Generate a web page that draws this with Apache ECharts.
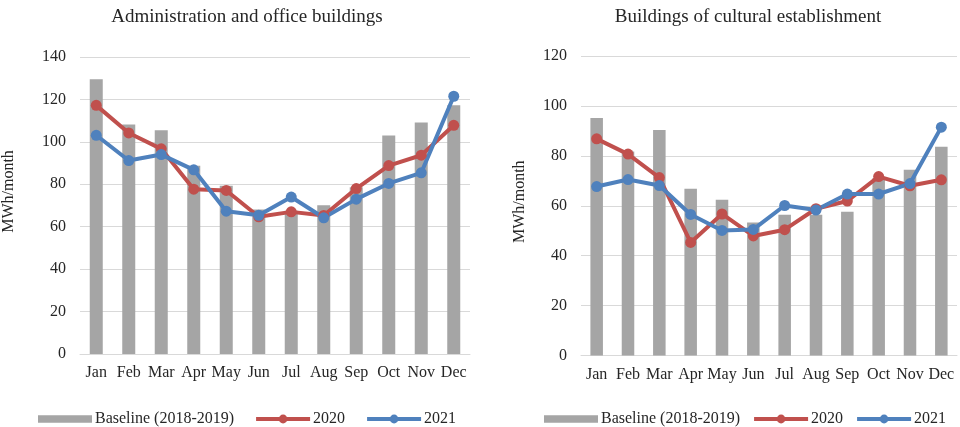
<!DOCTYPE html>
<html>
<head>
<meta charset="utf-8">
<script src="https://cdn.jsdelivr.net/npm/echarts@6/dist/echarts.min.js"></script>
<style>
  html, body { margin: 0; padding: 0; background: #fff; }
  #chart { width: 960px; height: 427px; }
</style>
</head>
<body>
<div id="chart"></div>
<script>
// Monthly energy use, MWh/month
const months = ['Jan', 'Feb', 'Mar', 'Apr', 'May', 'Jun', 'Jul', 'Aug', 'Sep', 'Oct', 'Nov', 'Dec'];

// Administration and office buildings
const officeBaseline = [129.5, 108.2, 105.5, 88.7, 79.3, 68.1, 67.5, 70.1, 78.6, 103, 109.1, 117.2];
const office2020 = [117.2, 104.2, 96.7, 77.7, 77.1, 64.7, 67.0, 65.3, 78.0, 88.8, 93.7, 107.8];
const office2021 = [103.1, 91.2, 94.0, 86.8, 67.3, 65.4, 74.0, 64.2, 73.0, 80.4, 85.4, 121.5];

// Buildings of cultural establishment
const cultureBaseline = [95.2, 81.7, 90.4, 66.8, 62.4, 53.3, 56.4, 56.4, 57.6, 71.0, 74.4, 83.6];
const culture2020 = [86.8, 80.7, 71.3, 45.3, 56.7, 47.9, 50.4, 58.8, 61.9, 71.7, 68.0, 70.4];
const culture2021 = [67.7, 70.5, 68.1, 56.5, 50.1, 50.5, 60.1, 58.3, 64.7, 64.7, 68.9, 91.5];

const seriesNames = ['Baseline (2018-2019)', '2020', '2021'];
const colors = { base: '#A5A5A5', y2020: '#C0504D', y2021: '#4F81BD' };
const font = '"Liberation Serif", "Times New Roman", serif';
const textColor = '#262626';

function xAxisFor(gridIndex) {
  return {
    type: 'category', gridIndex, data: months,
    axisLine: { lineStyle: { color: '#D9D9D9', width: 1 } },
    axisTick: { show: false },
    axisLabel: { color: textColor, fontFamily: font, fontSize: 16, margin: 11, interval: 0 }
  };
}

function yAxisFor(gridIndex, max, nameGap, namePad) {
  return {
    type: 'value', gridIndex, min: 0, max, interval: 20,
    name: 'MWh/month', nameLocation: 'middle', nameRotate: 90, nameGap,
    nameTextStyle: { color: textColor, fontFamily: font, fontSize: 16, padding: namePad },
    axisLine: { show: false }, axisTick: { show: false },
    axisLabel: { color: textColor, fontFamily: font, fontSize: 16, margin: 14 },
    splitLine: { lineStyle: { color: '#D9D9D9', width: 1 } }
  };
}

function seriesFor(idx, base, s2020, s2021) {
  const line = (name, data, color) => ({
    name, type: 'line', xAxisIndex: idx, yAxisIndex: idx, data,
    symbol: 'circle', symbolSize: 11,
    lineStyle: { color, width: 4 }, itemStyle: { color },
    z: 3
  });
  return [
    { name: seriesNames[0], type: 'bar', xAxisIndex: idx, yAxisIndex: idx, data: base,
      barWidth: '40%', itemStyle: { color: colors.base }, z: 2 },
    line(seriesNames[1], s2020, colors.y2020),
    line(seriesNames[2], s2021, colors.y2021)
  ];
}

function legendFor(left, gap) {
  return {
    left, top: 406, width: 440, itemWidth: 54, itemHeight: 11, itemGap: gap,
    lineStyle: { width: 4 },
    textStyle: { color: textColor, fontFamily: font, fontSize: 16, padding: [0, 0, 0, -2] },
    data: [
      { name: seriesNames[0], icon: 'path://M0,0H51V7H0Z' },
      { name: seriesNames[1] },
      { name: seriesNames[2] }
    ]
  };
}

const chart = echarts.init(document.getElementById('chart'), null, { renderer: 'canvas' });
chart.setOption({
  backgroundColor: '#fff',
  animation: false,
  title: [
    { text: 'Administration and office buildings', left: 242, top: 3, textAlign: 'center',
      textStyle: { color: textColor, fontFamily: font, fontSize: 19, fontWeight: 'normal' } },
    { text: 'Buildings of cultural establishment', left: 743, top: 3, textAlign: 'center',
      textStyle: { color: textColor, fontFamily: font, fontSize: 19, fontWeight: 'normal' } }
  ],
  grid: [
    { left: 78, right: 490, top: 57, bottom: 73 },
    { left: 581, right: 3, top: 56, bottom: 71.5 }
  ],
  xAxis: [xAxisFor(0), xAxisFor(1)],
  yAxis: [yAxisFor(0, 140, 63, [0, 0, 0, 28]), yAxisFor(1, 120, 53, [0, 0, 0, 8])],
  legend: [legendFor(33, 20), legendFor(539, 12)],
  series: [
    ...seriesFor(0, officeBaseline, office2020, office2021),
    ...seriesFor(1, cultureBaseline, culture2020, culture2021)
  ]
});
</script>
</body>
</html>
